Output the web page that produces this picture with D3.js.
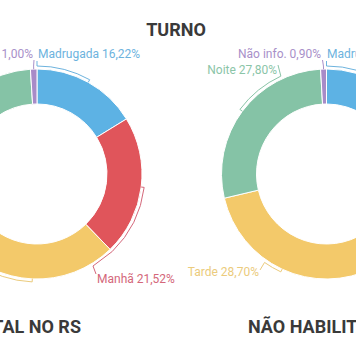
<!DOCTYPE html>
<html><head><meta charset="utf-8">
<script src="https://cdn.jsdelivr.net/npm/d3@7"></script>
<style>html,body{margin:0;padding:0;background:#fff;overflow:hidden}svg{display:block}</style>
</head><body>
<script>
// ---- data ----
const categories = ["Madrugada", "Manhã", "Tarde", "Noite", "Não info."];
const totalRS = [16.22, 21.52, 25.94, 35.32, 1.00];
const naoHabilitados = [18.50, 24.10, 28.70, 27.80, 0.90];
const mainTitle = "TURNO";
const chartTitles = ["TOTAL NO RS", "NÃO HABILITADOS"];

// ---- style ----
const sliceColors = ["#5db2e4", "#e0555b", "#f3c96a", "#85c3a6", "#a88bc8"];
const labelColors = ["#6db3de", "#d4677a", "#ebcb7c", "#8bc5a8", "#a890c9"];

const W = 356, H = 364;
const svg = d3.select("body").append("svg").attr("width", W).attr("height", H);

const R = 105, r = 70, LR = 108;
const fmt = v => d3.format(".2f")(v).replace(".", ",") + "%";

// per-chart label layout (relative to donut centre): turn = where leader arc ends
const layouts = [
  { cx: 37, cy: 174, labels: [
    { turn: "start", pts: [[0, -113]], lab: [1, -116], anchor: "start" },
    { turn: "end",  pts: [[56, 92], [59, 100]], lab: [60, 109], anchor: "start" },
    { turn: 215, pts: [[-75, 98]], lab: [-77, 102], anchor: "end" },
    { turn: 335, pts: [[-48, -109]], lab: [-49, -100], anchor: "end" },
    { turn: "mid", pts: [[-3, -114]], lab: [-4, -116], anchor: "end" }
  ]},
  { cx: 326.5, cy: 174, labels: [
    { turn: "start", pts: [[0, -113]], lab: [0.5, -116], anchor: "start" },
    { turn: "end", pts: [[60, 92], [62, 100]], lab: [63, 109], anchor: "start" },
    { turn: 215, pts: [[-66.5, 96]], lab: [-67.5, 102], anchor: "end" },
    { turn: 335, pts: [[-48.5, -109]], lab: [-49.5, -100], anchor: "end" },
    { turn: "mid", pts: [[-4, -114]], lab: [-5.5, -116], anchor: "end" }
  ]}
];

const pie = d3.pie().sort(null).value(d => d);
const arc = d3.arc().innerRadius(r).outerRadius(R);
const pt = (a, rad) => [rad * Math.sin(a), -rad * Math.cos(a)];

[totalRS, naoHabilitados].forEach((vals, ci) => {
  const L = layouts[ci];
  const g = svg.append("g").attr("transform", `translate(${L.cx},${L.cy})`);
  const arcs = pie(vals);
  g.selectAll("path.slice").data(arcs).join("path")
    .attr("class", "slice")
    .attr("d", arc)
    .attr("fill", (d, i) => sliceColors[i])
    .attr("stroke", "#fff").attr("stroke-width", 1);

  arcs.forEach((d, i) => {
    const lay = L.labels[i];
    const mid = (d.startAngle + d.endAngle) / 2;
    let t;
    if (lay.turn === "start") t = d.startAngle;
    else if (lay.turn === "end") t = d.endAngle;
    else if (lay.turn === "mid") t = mid;
    else t = lay.turn * Math.PI / 180;
    const p0 = pt(mid, LR), p1 = pt(t, LR), pin = pt(mid, LR - 3);
    const sweep = t > mid ? 1 : 0;
    const large = Math.abs(t - mid) > Math.PI ? 1 : 0;
    let dstr = `M${pin[0]},${pin[1]}L${p0[0]},${p0[1]}`;
    if (Math.abs(t - mid) > 1e-4) dstr += `A${LR},${LR} 0 ${large} ${sweep} ${p1[0]},${p1[1]}`;
    lay.pts.forEach(p => { dstr += `L${p[0]},${p[1]}`; });
    g.append("path").attr("d", dstr).attr("fill", "none")
      .attr("stroke", labelColors[i]).attr("stroke-width", 1);
    g.append("text")
      .attr("x", lay.lab[0]).attr("y", lay.lab[1])
      .attr("text-anchor", lay.anchor)
      .attr("font-family", "Roboto, sans-serif").attr("font-size", 12)
      .attr("fill", labelColors[i])
      .text(categories[i] + " " + fmt(vals[i]));
  });
});

svg.append("text").attr("x", 176).attr("y", 36).attr("text-anchor", "middle")
  .attr("font-family", "Roboto, sans-serif").attr("font-weight", "bold").attr("font-size", 18)
  .attr("fill", "#3a3a3a").text(mainTitle);
svg.append("text").attr("x", 81).attr("y", 333).attr("text-anchor", "end")
  .attr("font-family", "Roboto, sans-serif").attr("font-weight", "bold").attr("font-size", 18)
  .attr("fill", "#3a3a3a").text(chartTitles[0]);
svg.append("text").attr("x", 248).attr("y", 333).attr("text-anchor", "start")
  .attr("font-family", "Roboto, sans-serif").attr("font-weight", "bold").attr("font-size", 18)
  .attr("fill", "#3a3a3a").text(chartTitles[1]);
</script>
</body></html>
